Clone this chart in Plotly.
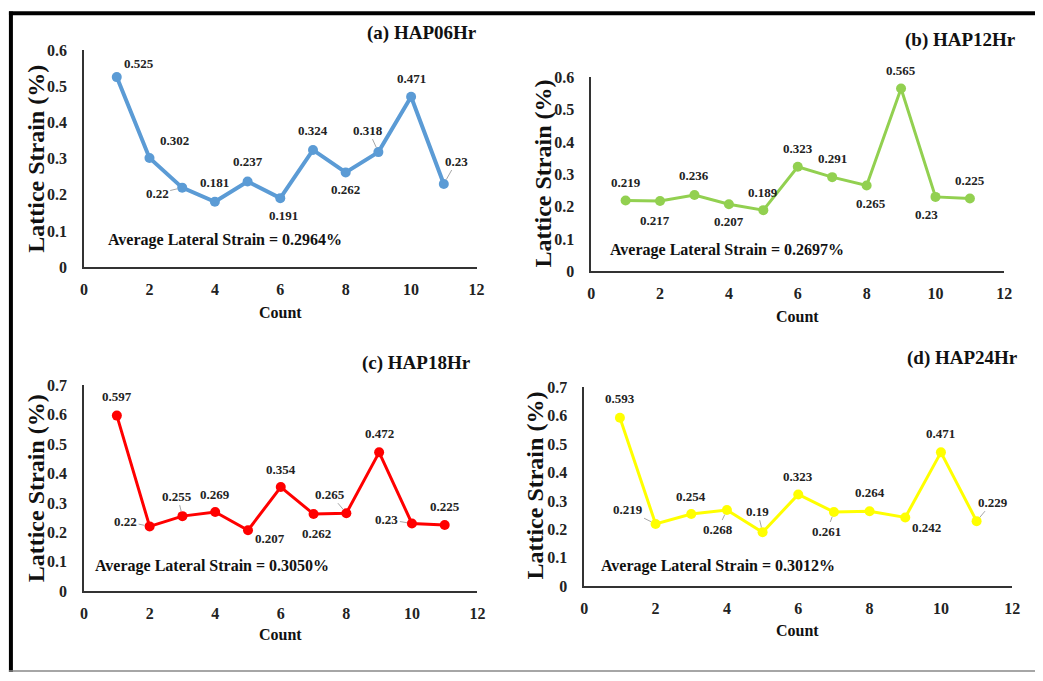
import plotly.graph_objects as go

# ---------------- data ----------------
count = [1, 2, 3, 4, 5, 6, 7, 8, 9, 10, 11]
strain_06 = [0.525, 0.302, 0.22, 0.181, 0.237, 0.191, 0.324, 0.262, 0.318, 0.471, 0.23]
strain_12 = [0.219, 0.217, 0.236, 0.207, 0.189, 0.323, 0.291, 0.265, 0.565, 0.23, 0.225]
strain_18 = [0.597, 0.22, 0.255, 0.269, 0.207, 0.354, 0.262, 0.265, 0.472, 0.23, 0.225]
strain_24 = [0.593, 0.219, 0.254, 0.268, 0.19, 0.323, 0.261, 0.264, 0.242, 0.471, 0.229]
panel_titles = ["(a) HAP06Hr", "(b) HAP12Hr", "(c) HAP18Hr", "(d) HAP24Hr"]
avg_texts = ["Average Lateral Strain = 0.2964%", "Average Lateral Strain = 0.2697%",
             "Average Lateral Strain = 0.3050%", "Average Lateral Strain = 0.3012%"]
x_ticks = [0, 2, 4, 6, 8, 10, 12]
y_max = [0.6, 0.6, 0.7, 0.7]

# ---------------- styling / layout ----------------
W, H = 1043, 681
FONT = "Liberation Serif"
colors = ["#5B9BD5", "#92D050", "#FF0000", "#FFFF00"]
line_w = [4, 3, 3, 3]

# plot-area pixel boxes (left, right, top, bottom)
boxes = [(81, 478, 43, 266), (594, 1012, 71, 270), (81, 479, 387, 598), (587, 1020, 389, 593)]
title_pos = [(423, 26), (968, 33), (417, 364), (970, 359)]
count_pos = [(280, 312), (803, 316), (280, 643), (803, 638)]
ytitle_pos = [(32, 155), (545, 170), (32, 493), (537, 490)]
avg_pos = [(103, 238), (611, 248), (90, 572), (602, 572)]

# label offsets (screen px: dx right, dy down) and leader flags
offsets = [
    [(22, -14), (25, -17), (-25, 6), (0, -19), (0, -20), (3, 17), (0, -19), (0, 17), (-10, -22), (0, -18), (13, -23)],
    [(0, -18), (-5, 19), (0, -19), (0, 17), (0, -18), (0, -18), (0, -19), (4, 18), (0, -18), (-9, 18), (0, -18)],
    [(0, -19), (-24, -5), (-5, -20), (0, -18), (22, 8), (0, -18), (3, 19), (-16, -19), (0, -19), (-25, -4), (0, -18)],
    [(0, -19), (-28, -14), (0, -18), (-9, 19), (-5, -21), (0, -18), (-7, 19), (0, -19), (21, 10), (0, -19), (16, -19)],
]
leaders = [
    [2, 8, 10],
    [],
    [1, 2, 7, 9],
    [1, 3, 4, 6, 10],
]

series = [strain_06, strain_12, strain_18, strain_24]

fig = go.Figure()
annotations = []
for k in range(4):
    xa = "x" if k == 0 else f"x{k+1}"
    ya = "y" if k == 0 else f"y{k+1}"
    fig.add_trace(go.Scatter(
        x=count, y=series[k], mode="lines+markers",
        line=dict(color=colors[k], width=line_w[k]),
        marker=dict(color=colors[k], size=10),
        xaxis=xa, yaxis=ya, showlegend=False, hoverinfo="x+y",
    ))
    l, r, t, b = boxes[k]
    xdom = [l / W, r / W]
    ydom = [1 - b / H, 1 - t / H]
    axis_font = dict(family=FONT, size=16, color="#222", weight=700)
    fig.update_layout(**{
        ("xaxis" if k == 0 else f"xaxis{k+1}"): dict(
            domain=xdom, range=[0, 12], tickvals=x_ticks, showgrid=False, zeroline=False,
            showline=True, linecolor="#333", linewidth=1.5, ticks="", tickfont=axis_font,
            ticklabelstandoff=7, anchor=ya, fixedrange=True),
        ("yaxis" if k == 0 else f"yaxis{k+1}"): dict(
            domain=ydom, range=[0, y_max[k]], dtick=0.1, showgrid=False, zeroline=False,
            showline=True, linecolor="#333", linewidth=1.5, ticks="", tickfont=axis_font,
            ticklabelstandoff=12, anchor=xa, fixedrange=True),
    })
    # data labels
    for i, (xv, yv) in enumerate(zip(count, series[k])):
        dx, dy = offsets[k][i]
        lab = dict(text=f"{yv:g}", x=xv, y=yv, xref=xa, yref=ya,
                   font=dict(family=FONT, size=13, color="#222", weight=700))
        if i in leaders[k]:
            lab.update(showarrow=True, ax=dx, ay=dy, arrowhead=0, arrowwidth=1,
                       arrowcolor="#A6A6A6", standoff=5)
        else:
            lab.update(showarrow=False, xshift=dx, yshift=-dy)
        annotations.append(lab)
    # titles
    tx, ty = title_pos[k]
    annotations.append(dict(text=panel_titles[k], x=tx / W, y=1 - ty / H, xref="paper", yref="paper",
                            showarrow=False, xanchor="center", yanchor="middle",
                            font=dict(family=FONT, size=19, color="#111", weight=700)))
    cx, cy = count_pos[k]
    annotations.append(dict(text="Count", x=cx / W, y=1 - cy / H, xref="paper", yref="paper",
                            showarrow=False, xanchor="center", yanchor="middle",
                            font=dict(family=FONT, size=16, color="#111", weight=700)))
    yx, yy = ytitle_pos[k]
    annotations.append(dict(text="Lattice Strain (%)", x=yx / W, y=1 - yy / H, xref="paper", yref="paper",
                            showarrow=False, xanchor="center", yanchor="middle", textangle=-90,
                            font=dict(family=FONT, size=24, color="#111", weight=700)))
    ax_, ay_ = avg_pos[k]
    annotations.append(dict(text=avg_texts[k], x=ax_ / W, y=1 - ay_ / H, xref="paper", yref="paper",
                            showarrow=False, xanchor="left", yanchor="middle",
                            font=dict(family=FONT, size=16, color="#111", weight=700)))

shapes = [
    dict(type="line", xref="paper", yref="paper", x0=5 / W, x1=1, y0=1 - 5.5 / H, y1=1 - 5.5 / H,
         line=dict(color="black", width=4)),
    dict(type="line", xref="paper", yref="paper", x0=7 / W, x1=7 / W, y0=0, y1=1 - 3.5 / H,
         line=dict(color="black", width=4)),
    dict(type="line", xref="paper", yref="paper", x0=5 / W, x1=1, y0=1 - 680 / H, y1=1 - 680 / H,
         line=dict(color="#888", width=1.5)),
]

fig.update_layout(
    width=W, height=H, margin=dict(l=0, r=0, t=0, b=0),
    paper_bgcolor="white", plot_bgcolor="white",
    annotations=annotations, shapes=shapes,
)

fig.write_html("out.html", config={"displayModeBar": False})
